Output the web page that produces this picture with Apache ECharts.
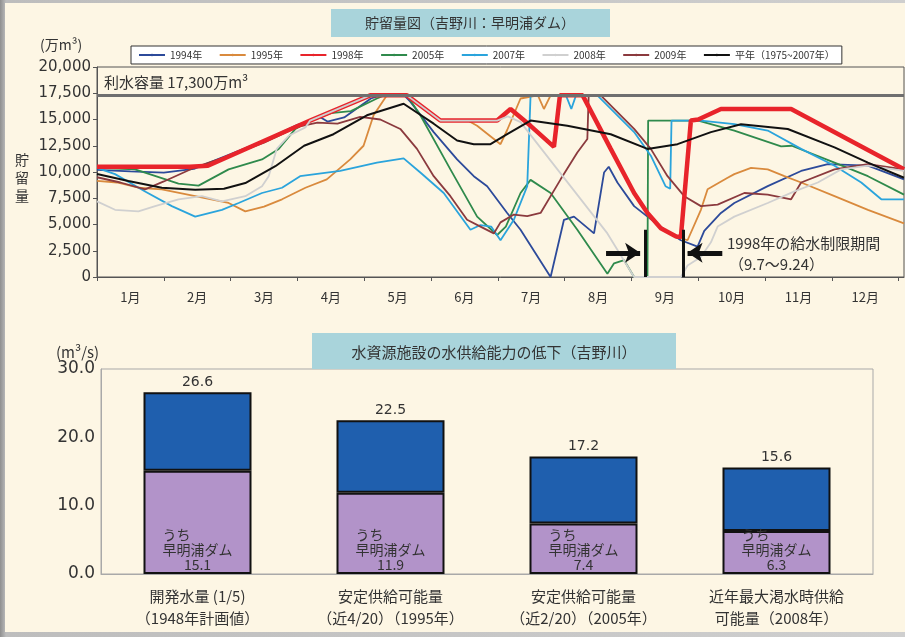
<!DOCTYPE html>
<html><head><meta charset="utf-8">
<script src="https://cdn.jsdelivr.net/npm/echarts@6/dist/echarts.min.js"></script>
<style>
html,body{margin:0;padding:0;width:905px;height:637px;overflow:hidden;background:linear-gradient(90deg,#8f8f8f 0,#bdbdbd 6px,#cfcfcf 100%);}
#frame{position:absolute;left:5px;top:3px;width:900px;height:629px;background:#fdf6e4;}
#chart{position:absolute;left:0;top:0;width:905px;height:637px;}
</style></head><body>
<div id="frame"></div>
<div id="chart"></div>
<script>
// ---------- DATA (upper chart: storage, 万m3, x = month position 0..12) ----------
const monthLabels = ['1月','2月','3月','4月','5月','6月','7月','8月','9月','10月','11月','12月'];
const monthBounds = [0,1,2,3,4,5,6,7,8,9,10,11,12];
const monthCenters = [0.5,1.5,2.5,3.5,4.5,5.5,6.5,7.5,8.5,9.5,10.5,11.5];
const capacity = 17300;
const restrictStart = 8.2;   // 9/7
const restrictEnd = 8.77;    // 9/24
const restrictBarTop = 4500;
const arrowLevel = 2300;
const arrowLeftFrom = 7.62, arrowLeftTo = 8.13;
const arrowRightFrom = 9.36, arrowRightTo = 8.84;

const s1994 = [[0,10200],[0.5,10050],[1.0,9950],[1.45,10300],[2.0,11700],[2.5,13000],[3.0,14500],[3.35,15200],[3.45,14800],[3.7,15200],[4.1,17000],[4.25,17300],[4.6,17300],[4.69,16700],[5.04,13800],[5.39,11200],[5.64,9600],[5.84,8650],[6.14,6100],[6.34,4500],[6.79,0],[6.99,5450],[7.14,5750],[7.44,4150],[7.59,9950],[7.66,10500],[7.79,9000],[8.04,6750],[8.24,5750],[8.5,4500],[8.74,3500],[8.99,2900],[9.09,4400],[9.34,6100],[9.54,7050],[10.04,8650],[10.54,10100],[10.94,10750],[11.54,10600],[12.08,9300]];
const s1995 = [[0,9150],[0.3,9000],[0.62,8500],[0.97,8350],[1.47,7700],[1.97,7050],[2.22,6250],[2.5,6700],[2.77,7400],[3.12,8500],[3.44,9300],[3.79,11200],[3.99,12500],[4.14,15400],[4.34,17300],[4.64,17300],[5.14,14900],[5.55,14900],[5.69,14400],[6.04,12650],[6.14,14000],[6.34,17000],[6.6,17300],[6.69,16000],[6.79,17300],[7.27,17300],[7.69,12200],[8.04,8000],[8.24,6100],[8.44,4650],[8.67,3850],[8.84,3500],[9.04,6400],[9.14,8350],[9.44,9450],[9.54,9800],[9.79,10400],[10.04,10250],[10.29,9600],[10.54,9000],[11.04,7700],[11.54,6400],[12.08,5100]];
const s1998 = [[0,10500],[1.39,10500],[1.66,10600],[3.19,14900],[4.09,17300],[4.64,17300],[5.14,14900],[5.99,14900],[6.19,16000],[6.49,14400],[6.84,12400],[6.93,17300],[7.27,17300],[7.69,12200],[8.04,8000],[8.24,6100],[8.44,4650],[8.67,3850],[8.74,3800],[8.89,14900],[9.0,15000],[9.34,16000],[10.39,16000],[12.08,10250]];
const s2005 = [[0,10400],[0.57,10250],[1.22,8900],[1.52,8700],[1.97,10250],[2.47,11200],[2.72,12200],[2.97,14100],[3.2,14900],[3.5,15600],[3.8,15800],[4.19,17000],[4.3,17300],[4.64,17300],[4.84,15400],[5.29,10250],[5.69,5750],[5.99,4000],[6.12,4800],[6.34,8000],[6.49,9250],[6.79,8000],[7.19,4500],[7.64,300],[7.74,1300],[7.89,1600],[8.04,0],[8.24,0],[8.25,14900],[9.0,14900],[9.54,13950],[10.24,12450],[10.4,12500],[11.04,10900],[11.54,9600],[12.08,7850]];
const s2007 = [[0,10400],[0.27,9800],[0.72,8150],[1.12,6750],[1.47,5750],[1.87,6400],[2.12,7050],[2.47,8000],[2.77,8500],[3.04,9600],[3.64,10100],[4.19,10900],[4.59,11300],[4.84,9950],[5.19,8000],[5.59,4500],[5.74,4950],[5.9,4800],[6.04,3500],[6.24,5450],[6.44,8650],[6.49,17300],[7.02,17300],[7.1,16000],[7.17,17300],[7.49,17300],[8.04,13800],[8.29,11550],[8.51,8650],[8.58,8400],[8.6,14900],[9.04,14900],[9.54,14550],[10.04,13950],[10.54,12200],[11.04,10600],[11.44,9000],[11.74,7400],[12.08,7400]];
const s2008 = [[0,7200],[0.27,6400],[0.62,6250],[0.87,6750],[1.22,7400],[1.57,7700],[1.87,7200],[2.22,7700],[2.47,8650],[2.57,9600],[2.69,12200],[2.87,13450],[3.12,14250],[3.19,14900],[4.09,17300],[4.64,17300],[5.14,14900],[5.99,14900],[6.15,15300],[6.34,14750],[7.64,4150],[8.04,0],[8.74,0],[8.84,1100],[9.04,1900],[9.19,3300],[9.29,4800],[9.54,5750],[10.04,7050],[10.44,8150],[10.79,9000],[11.14,10250],[11.54,10600],[12.08,10100]];
const s2009 = [[0,9500],[0.35,9000],[0.72,8350],[1.0,9100],[1.47,10450],[2.0,11600],[2.5,12800],[3.0,14300],[3.3,14700],[3.6,14600],[3.94,15250],[4.24,15000],[4.54,14100],[4.79,12200],[5.04,9600],[5.29,7700],[5.54,5450],[5.74,4800],[5.94,4150],[6.04,5200],[6.24,5950],[6.44,5800],[6.64,6100],[6.94,9300],[7.19,11850],[7.34,13150],[7.36,17300],[7.54,17300],[8.04,14100],[8.29,12200],[8.54,9600],[8.79,7700],[9.04,6750],[9.29,6900],[9.69,8000],[10.04,7850],[10.39,7400],[10.54,9000],[11.04,10250],[11.54,10750],[12.08,10250]];
const sNormal = [[0,9800],[0.47,9150],[0.97,8500],[1.47,8300],[1.9,8400],[2.22,8950],[2.67,10550],[3.1,12500],[3.54,13600],[4.04,15400],[4.59,16500],[5.04,14600],[5.39,13000],[5.64,12650],[5.89,12650],[6.14,13600],[6.49,14900],[7.04,14400],[7.69,13600],[8.24,12200],[8.69,12650],[9.19,13800],[9.64,14550],[10.34,14100],[11.04,12350],[11.54,10900],[12.08,9450]];

const seriesNames = ['1994年','1995年','1998年','2005年','2007年','2008年','2009年','平年（1975~2007年）'];
const seriesData = [s1994,s1995,s1998,s2005,s2007,s2008,s2009,sNormal];

// ---------- DATA (lower chart: m3/s) ----------
const barCategories = ['開発水量 (1/5)\n（1948年計画値）','安定供給可能量\n（近4/20）（1995年）','安定供給可能量\n（近2/20）（2005年）','近年最大渇水時供給\n可能量（2008年）'];
const totalSupply = [26.6,22.5,17.2,15.6];
const damSupply = [15.1,11.9,7.4,6.3];

// ---------- STYLE ----------
const JP = "'Noto Sans CJK JP', sans-serif";
const NUM = "'DejaVu Sans', 'Noto Sans CJK JP', sans-serif";
const lineStyles = [
  {color:'#2c4a9a', width:1.8, z:2},
  {color:'#d98a3d', width:1.8, z:2},
  {color:'#e8242b', width:4.5, z:3},
  {color:'#2f8a4c', width:1.8, z:2},
  {color:'#2aa4dc', width:1.8, z:2},
  {color:'#d0d0d0', width:1.8, z:4},
  {color:'#8b3a3e', width:1.8, z:2},
  {color:'#111111', width:2, z:5}
];

const chart = echarts.init(document.getElementById('chart'), null, {renderer:'canvas'});

const lineSeries = seriesNames.map((name, i) => {
  const st = lineStyles[i];
  return {
    name, type:'line', xAxisIndex:0, yAxisIndex:0,
    data: seriesData[i], symbol:'none', showSymbol:false,
    lineStyle:{color:st.color, width:st.width}, itemStyle:{color:st.color},
    z: st.z, animation:false, silent:true
  };
});
lineSeries[7].markLine = {
  silent:true, animation:false, symbol:['none','none'], label:{show:false},
  data:[
    {yAxis: capacity, lineStyle:{color:'#6f6f6f', width:3, type:'solid'}},
    [{coord:[restrictStart,0], lineStyle:{color:'#111', width:3, type:'solid'}},{coord:[restrictStart,restrictBarTop]}],
    [{coord:[restrictEnd,0], lineStyle:{color:'#111', width:3, type:'solid'}},{coord:[restrictEnd,restrictBarTop]}]
  ]
};
lineSeries[2].markLine = {
  silent:true, animation:false, symbol:['none','arrow'], symbolSize:[15,15], label:{show:false},
  data:[
    [{coord:[arrowLeftFrom,arrowLevel], lineStyle:{color:'#111', width:5, type:'solid'}},{coord:[arrowLeftTo,arrowLevel]}],
    [{coord:[arrowRightFrom,arrowLevel], lineStyle:{color:'#111', width:5, type:'solid'}},{coord:[arrowRightTo,arrowLevel]}]
  ]
};

const restSupply = totalSupply.map((t,i) => +(t - damSupply[i]).toFixed(1));
const legendData = seriesNames.map((n, i) => i === seriesNames.length - 1 ? {name:n, textStyle:{width:128}} : {name:n});

const option = {
  backgroundColor:'transparent',
  animation:false,
  textStyle:{fontFamily:JP},
  legend:{
    data: legendData,
    left:131, top:46, orient:'horizontal',
    padding:[4,7,4,7], itemGap:16.5, itemWidth:26, itemHeight:3,
    backgroundColor:'#ffffff', borderColor:'#333', borderWidth:1,
    textStyle:{fontSize:10, color:'#333', fontFamily:JP},
    selectedMode:false
  },
  grid:[
    {left:97, top:67, right:1, height:210, show:true, borderColor:'#555', borderWidth:1, backgroundColor:'transparent'},
    {left:101, top:369, right:32, bottom:63, show:true, borderColor:'#a9a9a9', borderWidth:1, backgroundColor:'transparent'}
  ],
  xAxis:[
    {type:'value', gridIndex:0, min:0, max:12.08,
     axisLine:{show:true, lineStyle:{color:'#555', width:1}},
     axisTick:{show:true, customValues:monthBounds, length:4, inside:false, lineStyle:{color:'#555'}},
     axisLabel:{customValues:monthCenters, formatter:(v)=>monthLabels[Math.round(v-0.5)], fontSize:13, color:'#333', margin:14, fontFamily:JP},
     splitLine:{show:false}},
    {type:'category', gridIndex:1, data:barCategories,
     axisLine:{show:true, lineStyle:{color:'#a9a9a9'}}, axisTick:{show:false},
     axisLabel:{fontSize:15, lineHeight:22, color:'#333', margin:11, fontFamily:JP}}
  ],
  yAxis:[
    {type:'value', gridIndex:0, min:0, max:20000, interval:2500,
     axisLine:{show:true, lineStyle:{color:'#555'}},
     axisTick:{show:true, length:4, lineStyle:{color:'#555'}},
     axisLabel:{formatter:(v)=>v.toLocaleString('en-US'), fontSize:15, color:'#333', margin:6, fontFamily:NUM},
     splitLine:{show:false}},
    {type:'value', gridIndex:1, min:0, max:30, interval:10,
     axisLine:{show:true, lineStyle:{color:'#a9a9a9'}}, axisTick:{show:false},
     axisLabel:{formatter:(v)=>v.toFixed(1), fontSize:17, color:'#333', margin:6, fontFamily:NUM},
     splitLine:{show:false}}
  ],
  series:[
    ...lineSeries,
    {name:'うち早明浦ダム', type:'bar', xAxisIndex:1, yAxisIndex:1, stack:'supply', data:damSupply, barWidth:108,
     itemStyle:{color:'#b293c9', borderColor:'#111', borderWidth:2},
     label:{show:true, position:'insideBottom', distance:2, formatter:(p)=>'うち　　　\n早明浦ダム\n'+p.value.toFixed(1), fontSize:14, lineHeight:15, color:'#333', fontFamily:JP},
     silent:true},
    {name:'合計', type:'bar', xAxisIndex:1, yAxisIndex:1, stack:'supply', data:restSupply, barWidth:108,
     itemStyle:{color:'#1f5fae', borderColor:'#111', borderWidth:2},
     label:{show:true, position:'top', distance:3, formatter:(p)=>totalSupply[p.dataIndex].toFixed(1), fontSize:14, color:'#333', fontFamily:NUM},
     silent:true}
  ],
  graphic:[
    {type:'rect', left:331, top:9, shape:{width:279, height:28}, style:{fill:'#a9d4db'}, silent:true},
    {type:'text', x:470, y:23, style:{text:'貯留量図（吉野川：早明浦ダム）', font:"14px 'Noto Sans CJK JP'", fill:'#333', align:'center', verticalAlign:'middle'}},
    {type:'text', x:40, y:45, style:{text:'(万m³)', font:"14px 'Noto Sans CJK JP'", fill:'#333', verticalAlign:'middle'}},
    {type:'text', x:22, y:178, style:{text:'貯\n留\n量', font:"14px 'Noto Sans CJK JP'", lineHeight:18, fill:'#333', align:'center', verticalAlign:'middle'}},
    {type:'text', x:104, y:82, style:{text:'利水容量 17,300万m³', font:"15px 'Noto Sans CJK JP'", fill:'#333', verticalAlign:'middle'}},
    {type:'text', x:727, y:243, style:{text:'1998年の給水制限期間', font:"15px 'Noto Sans CJK JP'", fill:'#333', verticalAlign:'middle'}},
    {type:'text', x:729, y:264, style:{text:'（9.7〜9.24）', font:"15px 'Noto Sans CJK JP'", fill:'#333', verticalAlign:'middle'}},
    {type:'rect', left:312, top:333, shape:{width:364, height:36}, style:{fill:'#a9d4db'}, silent:true},
    {type:'text', x:494, y:352, style:{text:'水資源施設の水供給能力の低下（吉野川）', font:"15px 'Noto Sans CJK JP'", fill:'#333', align:'center', verticalAlign:'middle'}},
    {type:'text', x:56, y:352, style:{text:'(m³/s)', font:"15px 'Noto Sans CJK JP'", fill:'#333', verticalAlign:'middle'}}
  ]
};
chart.setOption(option);
</script></body></html>
